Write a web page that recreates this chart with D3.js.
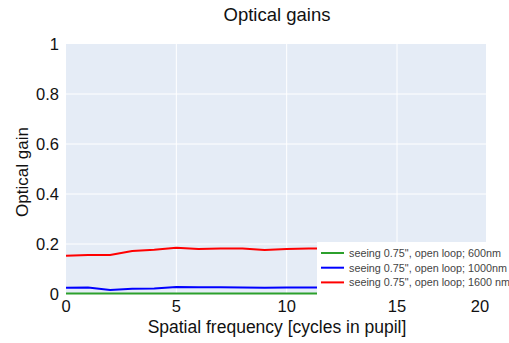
<!DOCTYPE html>
<html>
<head>
<meta charset="utf-8">
<script src="https://cdn.jsdelivr.net/npm/d3@7"></script>
<style>
  body { margin: 0; background: #fff; }
  svg { display: block; font-family: "Liberation Sans", Arial, sans-serif; }
</style>
</head>
<body>
<div id="chart"></div>
<script>
// data
let freqs = [0, 1, 2, 3, 4, 5, 6, 7, 8, 9, 10, 11, 12, 13, 14, 15, 16, 17, 18, 19];
let gain600 = [0.002, 0.002, 0.002, 0.002, 0.002, 0.002, 0.002, 0.002, 0.002, 0.002, 0.002, 0.002, 0.002, 0.002, 0.002, 0.002, 0.002, 0.002, 0.002, 0.002];
let gain1000 = [0.025, 0.026, 0.016, 0.021, 0.022, 0.028, 0.027, 0.027, 0.026, 0.025, 0.026, 0.026, 0.026, 0.026, 0.026, 0.026, 0.026, 0.026, 0.026, 0.026];
let gain1600 = [0.153, 0.156, 0.156, 0.172, 0.177, 0.185, 0.180, 0.182, 0.182, 0.176, 0.180, 0.182, 0.182, 0.182, 0.182, 0.182, 0.182, 0.182, 0.182, 0.182];
let seriesNames = ['seeing 0.75", open loop; 600nm', 'seeing 0.75", open loop; 1000nm', 'seeing 0.75", open loop; 1600 nm'];
let seriesColors = ["#2ca02c", "#0000ff", "#ff0000"];
let xTicks = [0, 5, 10, 15, 20];
let yTicks = [0, 0.2, 0.4, 0.6, 0.8, 1];

function drawChart() {
    let W = 509, H = 343;
    let margin = {top: 44, right: 23, bottom: 49, left: 66};
    let width = W - margin.left - margin.right;
    let height = H - margin.top - margin.bottom;

    let svg = d3.select("#chart").append("svg")
        .attr("width", W).attr("height", H);

    let g = svg.append("g")
        .attr("transform", "translate(" + margin.left + "," + margin.top + ")");

    // x axis is squeezed after 15 in the original picture
    let x = d3.scaleLinear().domain([0, 15, 20]).range([0, 331, 414]);
    let y = d3.scaleLinear().domain([0, 1]).range([height, 0]);

    g.append("rect").attr("width", width).attr("height", height).attr("fill", "#e5ecf6");

    g.selectAll(".gx").data(xTicks.filter(d => d > 0 && d < 20)).join("line")
        .attr("x1", d => x(d)).attr("x2", d => x(d))
        .attr("y1", 0).attr("y2", height)
        .attr("stroke", "#fff").attr("stroke-width", 1);
    g.selectAll(".gy").data(yTicks.filter(d => d > 0 && d < 1)).join("line")
        .attr("x1", 0).attr("x2", width)
        .attr("y1", d => y(d)).attr("y2", d => y(d))
        .attr("stroke", "#fff").attr("stroke-width", 1);

    // tick labels
    g.selectAll(".tx").data(xTicks).join("text")
        .attr("x", d => x(d)).attr("y", height + 18)
        .attr("text-anchor", "middle")
        .attr("font-size", 16.5).attr("fill", "#111")
        .text(d => d);
    g.selectAll(".ty").data(yTicks).join("text")
        .attr("x", -7).attr("y", d => y(d) + 6)
        .attr("text-anchor", "end")
        .attr("font-size", 16.5).attr("fill", "#111")
        .text(d => d);

    let series = [gain600, gain1000, gain1600];
    let line = d3.line().x((d, i) => x(freqs[i])).y(d => y(d));
    g.selectAll(".line").data(series).join("path")
        .attr("fill", "none")
        .attr("stroke", (d, i) => seriesColors[i])
        .attr("stroke-width", 2)
        .attr("d", d => line(d));

    // titles
    svg.append("text").attr("x", 277).attr("y", 21)
        .attr("text-anchor", "middle").attr("font-size", 18.5).attr("fill", "#111")
        .text("Optical gains");
    svg.append("text").attr("x", 277).attr("y", 333)
        .attr("text-anchor", "middle").attr("font-size", 17.5).attr("fill", "#111")
        .text("Spatial frequency [cycles in pupil]");
    svg.append("text")
        .attr("transform", "translate(28,172) rotate(-90)")
        .attr("text-anchor", "middle").attr("font-size", 17).attr("fill", "#111")
        .text("Optical gain");

    // legend
    let lg = svg.append("g").attr("transform", "translate(317,242)");
    lg.append("rect").attr("width", 192).attr("height", 54).attr("fill", "#fff");
    let item = lg.selectAll(".item").data(seriesNames).join("g")
        .attr("transform", (d, i) => "translate(0," + (11 + i * 14.7) + ")");
    item.append("line").attr("x1", 4).attr("x2", 27)
        .attr("stroke", (d, i) => seriesColors[i]).attr("stroke-width", 2);
    item.append("text").attr("x", 32).attr("y", 4)
        .attr("font-size", 10.8).attr("fill", "#444")
        .text(d => d);
}

drawChart();
</script>
</body>
</html>
